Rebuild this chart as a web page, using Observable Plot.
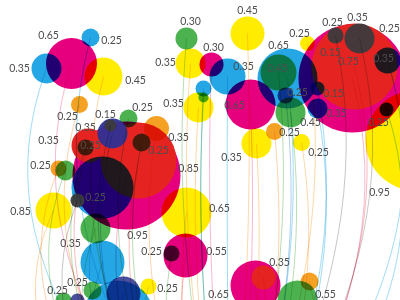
<!DOCTYPE html>
<html><head><meta charset="utf-8">
<script src="https://cdn.jsdelivr.net/npm/d3@7"></script>
<script src="https://cdn.jsdelivr.net/npm/@observablehq/plot@0.6"></script>
<style>html,body{margin:0;padding:0;background:#fff;}</style>
</head><body><div id="chart"></div>
<script>
// Bubbles: position, size, colour group
const bubbleX = [46,71,90,103,79,128,156, 126,138,88,102,85,141,58,65,95, 186,190,211,227,203,203,247,198,250,278,287,285,307,290,274,301,256, 352,354,415,387,317,317,386, 53,186,185,171,102,118,123,92,77,63,148, 255,263,297,309];
const bubbleY = [68,63,37,76,104,118,128, 175,160,145,187,147,142,168,170,228, 38,63,64,76,88,97,33,107,104,72,78,95,43,112,131,142,143, 78,66,140,60,88,108,109, 210,212,255,253,262,315,293,290,300,300,286, 285,277,300,281];
const bubbleSize = [15,25.5,9,19,8.5,9,12.5, 54,38,17,31,8,9,8,10,15, 11,15,12,18,8,5,17,15,25,18,30,8,7.5,15,8.5,8.5,15, 54,43,50,13,7,10,7, 18,25,22,8,22,35,17,9,7,8,8, 25,12,20,9];
const bubbleGroup = ["cyan","magenta","cyan","yellow","orange","green","orange",
  "magenta","red","red","cyan","green","green","orange","green","green",
  "green","yellow","magenta","cyan","cyan","green","yellow","yellow","magenta","green","cyan","navy","yellow","green","orange","yellow","yellow",
  "magenta","red","yellow","cyan","cyan","cyan","cyan",
  "yellow","yellow","magenta","green","cyan","cyan","navy","green","navy","green","yellow",
  "magenta","red","green","orange"];

// Solid top circles
const solidX = [112,110,77,359,335];
const solidY = [133,125,200,38,35];
const solidSize = [15,6,7,15,8];
const solidGroup = ["navy","dark","dark","dark","dark"];

// Value labels
const labelText = ["0.65","0.25","0.35","0.45","0.30","0.45","0.30","0.25","0.25","0.35","0.25","0.65","0.35","0.35","0.45","0.15","0.75","0.35","0.25","0.15","0.65","0.35","0.45","0.25","0.25","0.25","0.25","0.15","0.25","0.35","0.35","0.35","0.25","0.35","0.25","0.35","0.25","0.85","0.95","0.25","0.85","0.65","0.95","0.35","0.25","0.55","0.35","0.25","0.25","0.25","0.65","0.55"];
const labelX = [48,111,19,135,190,247,213,299,332,357,389,278,165,243,277,330,348,383,297,333,234,336,310,378,289,318,67,105,142,173,85,48,90,178,158,231,40,188,379,95,20,219,137,70,151,216,279,77,57,167,218,325];
const labelY = [35,40,68,80,21,10,47,33,22,17,28,45,62,66,68,52,61,58,92,93,105,113,122,122,132,152,116,114,107,103,127,140,145,137,150,157,165,168,192,197,211,208,235,243,251,251,262,282,290,288,294,294];

// Where all strings are tied together (below the picture)
const knotX = 230, knotY = 700;

const palette = {magenta:"#e6007e", cyan:"#0099e0", yellow:"#ffec00", red:"#e52421", green:"#2fa533", orange:"#f39200", navy:"#2e3192", dark:"#3c3b3d"};
const stringPalette = {magenta:"#f29ac3", cyan:"#7ccbef", yellow:"#fbc98a", red:"#f3a0a0", green:"#9ccf95", orange:"#fbc38a", navy:"#8fb8e6", dark:"#b0b0b0"};

const bubbles = bubbleX.map((x,i)=>({x, y:bubbleY[i], r:bubbleSize[i], g:bubbleGroup[i]}));
const solids = solidX.map((x,i)=>({x, y:solidY[i], r:solidSize[i], g:solidGroup[i]}));
const labels = labelText.map((t,i)=>({t, x:labelX[i], y:labelY[i]}));
const strings = bubbles.concat(solids);

const under = bubbles.filter(d => d.g === "magenta" || d.g === "yellow");
const reds = bubbles.filter(d => d.g === "red");
const over = bubbles.filter(d => !["magenta","yellow","red"].includes(d.g));

// custom "hanging string" curve
function stringCurve(context){
  let pts = [];
  return {
    areaStart(){}, areaEnd(){},
    lineStart(){ pts = []; },
    point(x,y){ pts.push([x,y]); },
    lineEnd(){
      const [[x0,y0],[x1,y1]] = pts;
      const dy = y1 - y0, dx = x1 - x0;
      context.moveTo(x0,y0);
      context.bezierCurveTo(x0 - 0.5*dx, y0 + 0.4*dy, x1, y1 - 0.4*dy, x1, y1);
    }
  };
}

const chart = Plot.plot({
  width: 400, height: 300,
  margin: 0,
  x: {domain:[0,400], range:[0,400], axis:null},
  y: {domain:[0,300], range:[0,300], axis:null},
  r: {type:"identity"},
  color: {type:"identity"},
  style: {background:"#fff", overflow:"hidden"},
  marks: [
    Plot.dot(under, {x:"x", y:"y", r:"r", fill:d=>palette[d.g], stroke:null, mixBlendMode:"multiply"}),
    Plot.dot(reds, {x:"x", y:"y", r:"r", fill:d=>palette[d.g], stroke:null}),
    Plot.dot(over, {x:"x", y:"y", r:"r", fill:d=>palette[d.g], fillOpacity:0.86, stroke:null, mixBlendMode:"multiply"}),
    Plot.dot(solids, {x:"x", y:"y", r:"r", fill:d=>palette[d.g], fillOpacity:0.95, stroke:null}),
    Plot.link(strings, {x1:"x", y1:"y", x2:()=>knotX, y2:()=>knotY, curve:stringCurve, stroke:d=>stringPalette[d.g], strokeWidth:0.8, strokeOpacity:0.9, mixBlendMode:"multiply"}),
    Plot.text(labels, {x:"x", y:"y", text:"t", fontSize:10.5, fill:"#4d4d4d", fontFamily:"Lato, 'Open Sans', sans-serif", textAnchor:"middle"})
  ]
});
document.getElementById("chart").appendChild(chart);
</script>
</body></html>
